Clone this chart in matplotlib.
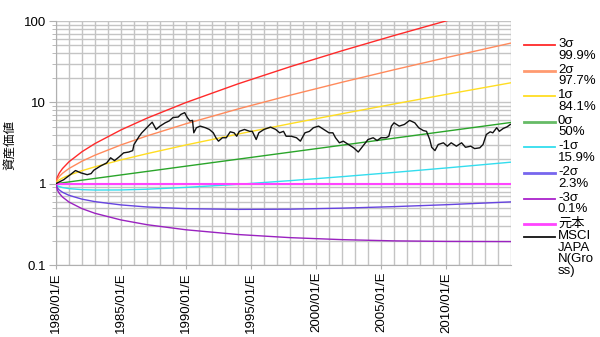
import matplotlib
matplotlib.use("Agg")
import matplotlib.pyplot as plt
from matplotlib.lines import Line2D
from matplotlib.ticker import FixedLocator, LogLocator, NullFormatter

plt.rcParams['font.family'] = ['Liberation Sans', 'Noto Sans CJK JP', 'DejaVu Sans']

# ---- data ----
band_years = [1980.0, 1980.1, 1980.25, 1980.5, 1981, 1982, 1983, 1985, 1987, 1990,
              1994, 1998, 2002, 2006, 2010, 2015]
band_3s = [1.0, 1.201, 1.346, 1.534, 1.858, 2.472, 3.114, 4.582, 6.389, 9.948,
           16.87, 27.37, 43.06, 66.24, 100.2, 164.8]
band_2s = [1.0, 1.130, 1.224, 1.341, 1.537, 1.890, 2.241, 2.996, 3.865, 5.455,
           8.288, 12.22, 17.66, 25.14, 35.39, 53.56]
band_1s = [1.0, 1.066, 1.113, 1.173, 1.271, 1.444, 1.612, 1.959, 2.338, 2.992,
           4.071, 5.458, 7.244, 9.543, 12.50, 17.40]
band_0s = [1.0, 1.005, 1.013, 1.025, 1.051, 1.104, 1.160, 1.281, 1.414, 1.641,
           2.000, 2.438, 2.971, 3.622, 4.415, 5.655]
band_m1s = [1.0, 0.946, 0.921, 0.896, 0.869, 0.844, 0.835, 0.837, 0.855, 0.900,
            0.982, 1.089, 1.219, 1.375, 1.559, 1.838]
band_m2s = [1.0, 0.890, 0.837, 0.784, 0.719, 0.645, 0.601, 0.548, 0.517, 0.493,
            0.483, 0.486, 0.500, 0.522, 0.551, 0.597]
band_m3s = [1.0, 0.837, 0.761, 0.685, 0.594, 0.493, 0.432, 0.358, 0.313, 0.271,
            0.237, 0.217, 0.205, 0.198, 0.195, 0.194]
principal_years = [1980.0, 2015.0]
principal = [1.0, 1.0]

msci_years = [1980.0, 1980.3, 1980.6, 1980.9, 1981.1, 1981.5, 1981.9, 1982.4, 1982.7,
              1982.9, 1983.4, 1983.9, 1984.2, 1984.5, 1984.85, 1985.2, 1985.6, 1985.9,
              1986.0, 1986.2, 1986.4, 1986.6, 1986.9, 1987.2, 1987.4, 1987.7, 1988.0,
              1988.4, 1988.7, 1989.0, 1989.4, 1989.6, 1989.9, 1990.1, 1990.3, 1990.5,
              1990.6, 1990.8, 1991.1, 1991.5, 1991.8, 1992.1, 1992.3, 1992.5, 1992.8,
              1993.1, 1993.4, 1993.7, 1993.9, 1994.1, 1994.5, 1994.9, 1995.1, 1995.4,
              1995.6, 1996.0, 1996.5, 1996.9, 1997.2, 1997.5, 1997.7, 1998.1, 1998.5,
              1998.8, 1999.15, 1999.5, 1999.8, 2000.2, 2000.6, 2001.0, 2001.3, 2001.5,
              2001.8, 2002.1, 2002.5, 2002.9, 2003.25, 2003.6, 2004.0, 2004.4, 2004.7,
              2005.0, 2005.4, 2005.6, 2005.8, 2006.0, 2006.4, 2006.8, 2007.2, 2007.6,
              2007.9, 2008.25, 2008.5, 2008.75, 2008.9, 2009.15, 2009.4, 2009.8, 2010.1,
              2010.4, 2010.8, 2011.2, 2011.5, 2011.9, 2012.2, 2012.6, 2012.85, 2013.1,
              2013.4, 2013.6, 2013.9, 2014.1, 2014.4, 2014.7, 2014.95]
msci_values = [1.00, 1.06, 1.12, 1.22, 1.29, 1.45, 1.36, 1.29, 1.33,
               1.46, 1.64, 1.80, 2.08, 1.92, 2.13, 2.39, 2.45, 2.55,
               3.03, 3.40, 3.83, 4.22, 4.73, 5.30, 5.70, 4.64, 5.10,
               5.60, 5.90, 6.50, 6.60, 7.10, 7.47, 6.50, 5.90, 6.00,
               4.22, 4.87, 5.10, 4.87, 4.64, 4.22, 3.67, 3.33, 3.67,
               3.67, 4.34, 4.22, 3.83, 4.40, 4.64, 4.40, 4.40, 3.49,
               4.22, 4.64, 4.96, 4.64, 4.22, 4.40, 3.83, 3.83, 3.67,
               3.33, 4.22, 4.40, 4.87, 5.10, 4.64, 4.22, 4.22, 3.67,
               3.18, 3.33, 3.03, 2.76, 2.45, 2.89, 3.49, 3.67, 3.39,
               3.67, 3.67, 3.83, 5.10, 5.60, 5.10, 5.35, 6.00, 5.60,
               4.87, 4.50, 4.40, 3.49, 2.80, 2.55, 3.03, 3.18, 2.89,
               3.18, 2.89, 3.18, 2.80, 2.89, 2.70, 2.76, 3.03, 4.02,
               4.34, 4.22, 4.87, 4.40, 4.77, 5.00, 5.35]

tick_years = [1980, 1985, 1990, 1995, 2000, 2005, 2010]
tick_labels = ['1980/01/E', '1985/01/E', '1990/01/E', '1995/01/E',
               '2000/01/E', '2005/01/E', '2010/01/E']
grid_years = list(range(1980, 2016))
y_ticks = [0.1, 1, 10, 100]
y_tick_labels = ['0.1', '1', '10', '100']

series = [
    ('3σ\n99.9%', band_years, band_3s, '#ff2a2a', '#ff2a2a'),
    ('2σ\n97.7%', band_years, band_2s, '#ff8a5c', '#ff9a70'),
    ('1σ\n84.1%', band_years, band_1s, '#ffdd22', '#ffdd22'),
    ('0σ\n50%', band_years, band_0s, '#2aa52a', '#66bb66'),
    ('-1σ\n15.9%', band_years, band_m1s, '#33ddee', '#33ddee'),
    ('-2σ\n2.3%', band_years, band_m2s, '#6644e0', '#7766ee'),
    ('-3σ\n0.1%', band_years, band_m3s, '#9a22c0', '#aa22cc'),
    ('元本', principal_years, principal, '#ff44ff', '#ff44ff'),
    ('MSCI\nJAPA\nN(Gro\nss)', msci_years, msci_values, '#111111', '#111111'),
]

W, H = 600, 337
fig = plt.figure(figsize=(W / 100, H / 100), dpi=100)
ax = fig.add_axes([56 / W, 1 - 265 / H, (511 - 56) / W, (265 - 21) / H])

for label, xs, ys, col, _ in series:
    lw = 1.5 if label == '元本' else 1.0
    ax.plot(xs, ys, color=col, lw=lw, zorder=3)

ax.set_yscale('log')
ax.set_ylim(0.1, 100)
ax.set_xlim(1980, 2015)
ax.set_yticks(y_ticks)
ax.set_yticklabels(y_tick_labels)
ax.yaxis.set_minor_locator(LogLocator(base=10, subs=range(2, 10)))
ax.yaxis.set_minor_formatter(NullFormatter())
ax.set_xticks(tick_years)
ax.set_xticklabels(tick_labels, rotation=90)
ax.xaxis.set_minor_locator(FixedLocator(grid_years))

ax.grid(True, which='both', axis='both', color='#c4c4c4', lw=1.0, zorder=0)
ax.set_axisbelow(True)
for s in ['top', 'right']:
    ax.spines[s].set_visible(False)
for s in ['left', 'bottom']:
    ax.spines[s].set_color('#b0b0b0')
ax.tick_params(axis='y', which='major', length=5, color='#b0b0b0', labelsize=9.5, pad=2)
ax.tick_params(axis='y', which='minor', length=3, color='#b0b0b0')
ax.tick_params(axis='x', which='major', length=3, color='#b0b0b0', labelsize=9.5, pad=2)
ax.tick_params(axis='x', which='minor', length=0)

fig.text(10 / W, 1 - 145 / H, '資産価値', rotation=90, ha='center', va='center',
         fontsize=9, family=['Noto Sans CJK JP'])

# manual legend (handle aligned with first text line)
y = 45.0
line_h = 12.8
for label, xs, ys, _, lcol in series:
    lw = 2.0 if label in ('0σ\n50%', '元本', '-2σ\n2.3%', '2σ\n97.7%') else 1.3
    fig.add_artist(Line2D([524 / W, 555 / W], [1 - y / H, 1 - y / H],
                          color=lcol, lw=lw, transform=fig.transFigure))
    fig.text(558 / W, 1 - (y - 7.0) / H, label, ha='left', va='top',
             fontsize=9.5, linespacing=0.95)
    y += line_h * (label.count('\n') + 1)

fig.savefig('out.png', dpi=100)
